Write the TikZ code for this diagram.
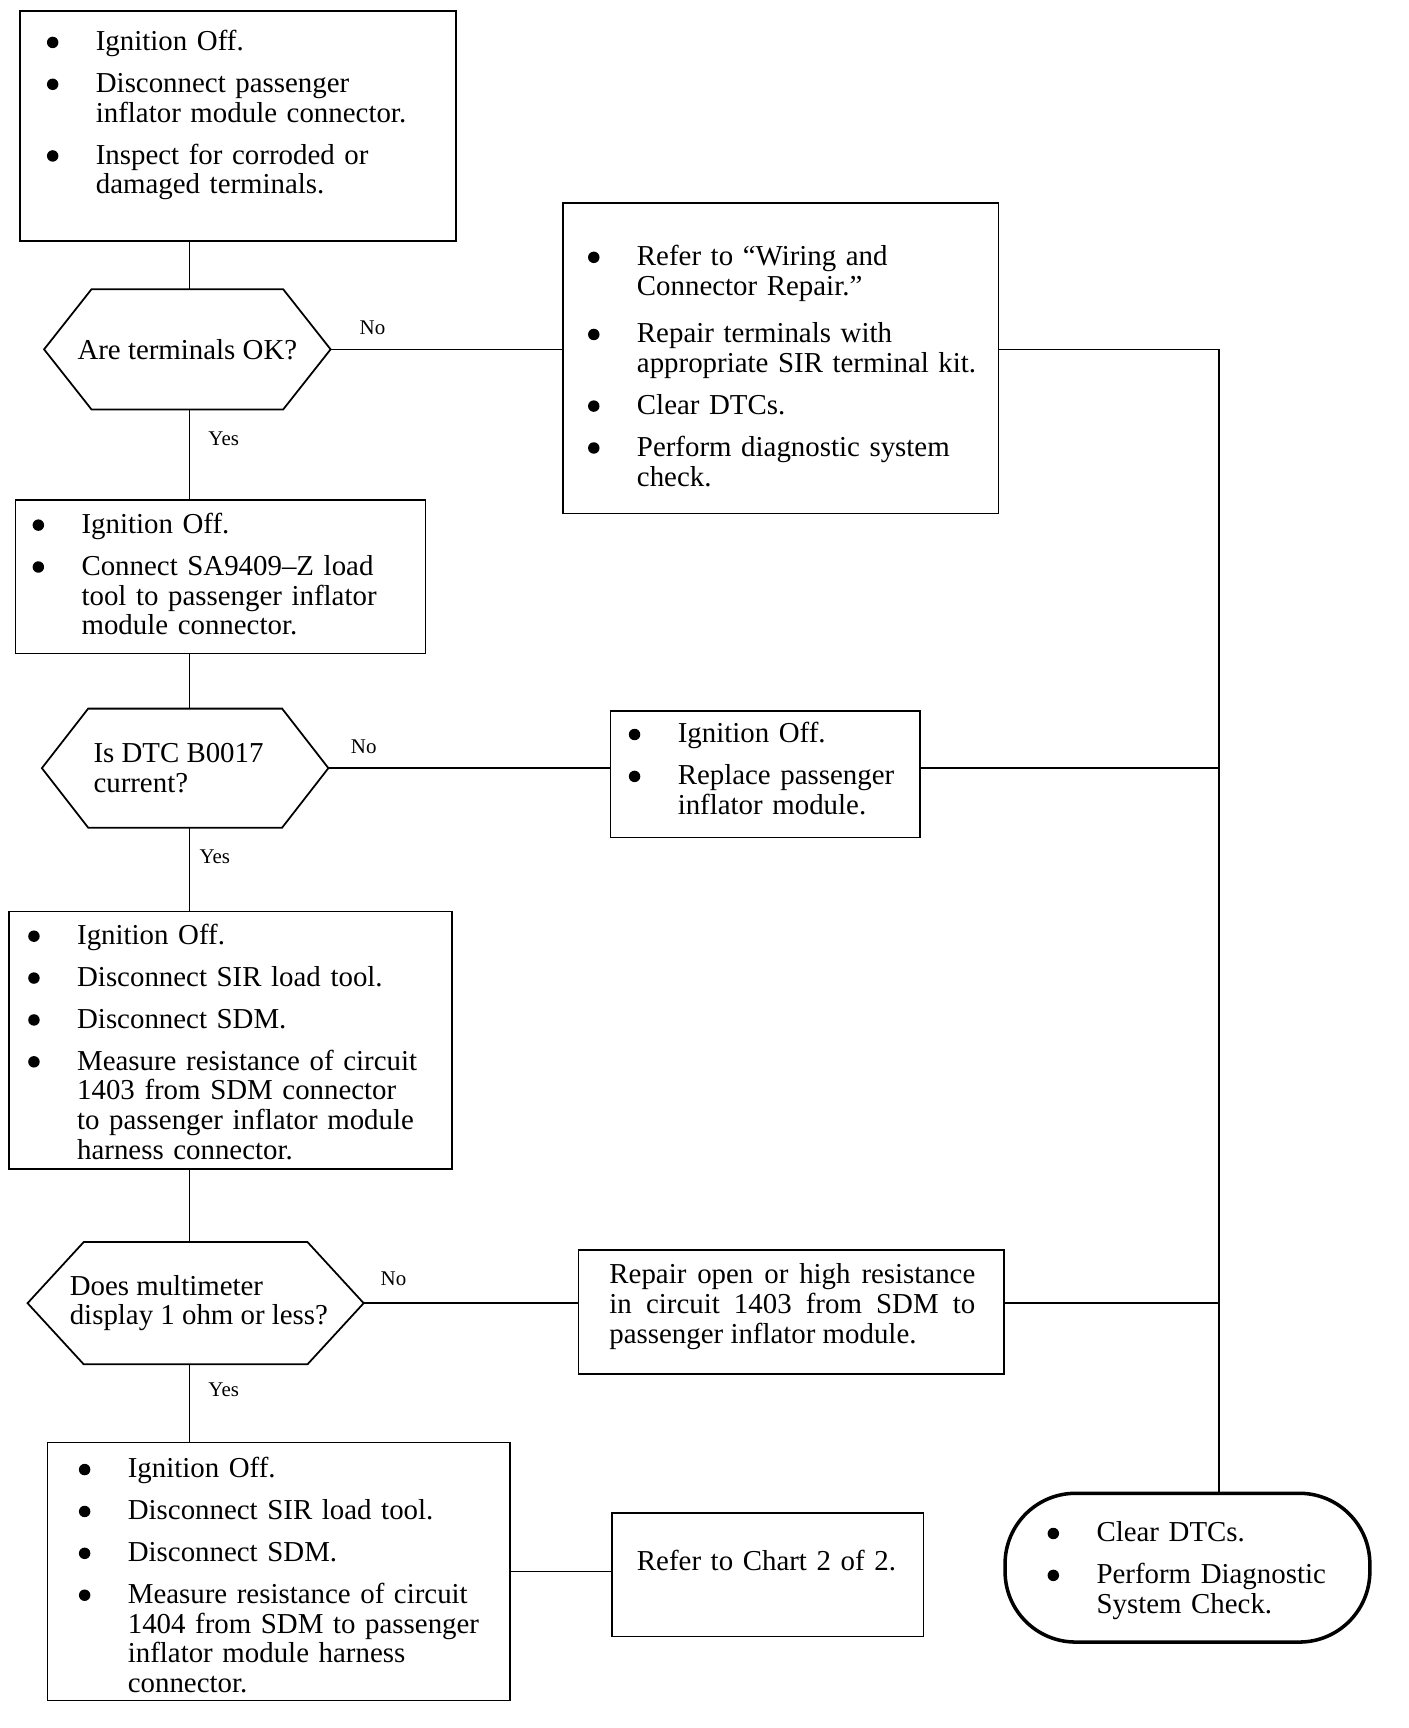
\documentclass[tikz,border=0pt]{standalone}
\usepackage{fontspec}
\setmainfont{Liberation Serif}
\newcommand\mainsize{\fontsize{26.2pt}{27pt}\selectfont}
\newcommand\bul{\tikz[baseline=0pt]\fill (0pt,7.5pt) circle (5.2pt);}
\newcommand\bfirst{\noindent\llap{\bul\hspace{34pt}}}
\newcommand\bnext[1][0pt]{\par\vspace{\dimexpr11pt+#1\relax}\noindent\llap{\bul\hspace{34pt}}}
\newcommand\hexo[2]{\draw[line width=1.6pt, line join=miter] (#1.west) -- ([xshift=#2]#1.north west) -- ([xshift=-#2]#1.north east) -- (#1.east) -- ([xshift=-#2]#1.south east) -- ([xshift=#2]#1.south west) -- cycle;}
\tikzset{
  frame/.style={draw, rectangle, line width=1.6pt, inner sep=0pt, outer sep=0pt, anchor=north west},
  hexa/.style={inner sep=0pt, outer sep=0pt, align=left, font=\mainsize},
  txt/.style={anchor=base west, inner sep=0pt, outer sep=0pt, text width=420pt, align=left, font=\mainsize,
    execute at begin node={\setlength\baselineskip{27pt}}},
  lbl/.style={font=\fontsize{19pt}{19pt}\selectfont, inner sep=0pt},
  conn/.style={line width=1.3pt},
}
\begin{document}
\begin{tikzpicture}[x=1pt,y=-1pt]
\fill[white] (0,0) rectangle (1278,1568);
\useasboundingbox (0,0) rectangle (1278,1568);

% frames
\node[frame, minimum width=396pt, minimum height=209pt] (b1) at (18,10) {};
\node[frame, minimum width=395pt, minimum height=282pt] (r1) at (511,184) {};
\node[frame, minimum width=372pt, minimum height=139pt] (b2) at (14,454) {};
\node[frame, minimum width=281pt, minimum height=115pt] (r2) at (554,645) {};
\node[frame, minimum width=402pt, minimum height=234pt] (b3) at (8,827) {};
\node[frame, minimum width=386pt, minimum height=113pt] (r3) at (525,1134) {};
\node[frame, minimum width=420pt, minimum height=234pt] (b4) at (43,1309) {};
\node[frame, minimum width=283pt, minimum height=112pt] (r4) at (555,1373) {};
\node[draw, rectangle, rounded corners=64pt, line width=3.2pt, minimum width=331pt, minimum height=135pt,
      anchor=north west, inner sep=0pt, outer sep=0pt] (term) at (912,1355) {};

% decisions
\node[hexa, minimum width=260pt, minimum height=109pt] (d1) at (170,317) {Are terminals OK?};
\hexo{d1}{43pt}
\node[hexa, minimum width=260pt, minimum height=108pt] (d2) at (168,697) {Is DTC B0017\hspace*{12pt}\\current?};
\hexo{d2}{42pt}
\node[hexa, minimum width=305pt, minimum height=111pt] (d3) at (177.5,1182.5) {\hspace*{6pt}Does multimeter\\\hspace*{6pt}display 1 ohm or less?};
\hexo{d3}{51pt}

% texts
\node[txt] (b1t) at (87,46) {\bfirst Ignition Off.\bnext Disconnect passenger\\inflator module connector.\bnext Inspect for corroded or\\damaged terminals.};
\node[txt] (r1t) at (578,241) {\bfirst Refer to “Wiring and\\Connector Repair.”\bnext[5pt]Repair terminals with\\appropriate SIR terminal kit.\bnext Clear DTCs.\bnext Perform diagnostic system\\check.};
\node[txt] (b2t) at (74,484) {\bfirst Ignition Off.\bnext Connect SA9409–Z load\\tool to passenger inflator\\module connector.};
\node[txt] (r2t) at (615,674) {\bfirst Ignition Off.\bnext Replace passenger\\inflator module.};
\node[txt] (b3t) at (70,857) {\bfirst Ignition Off.\bnext Disconnect SIR load tool.\bnext Disconnect SDM.\bnext Measure resistance of circuit\\1403 from SDM connector\\to passenger inflator module\\harness connector.};
\node[txt, text width=332pt, align=justify] (r3t) at (553,1165) {Repair open or high resistance\linebreak in circuit 1403 from SDM to\linebreak passenger inflator module.};
\node[txt] (b4t) at (116,1341) {\bfirst Ignition Off.\bnext Disconnect SIR load tool.\bnext Disconnect SDM.\bnext Measure resistance of circuit\\1404 from SDM to passenger\\inflator module harness\\connector.};
\node[txt] (r4t) at (578,1425) {Refer to Chart 2 of 2.};
\node[txt] (termt) at (995,1399) {\bfirst Clear DTCs.\bnext Perform Diagnostic\\System Check.};

% connectors
\coordinate (col) at (172,0);
\coordinate (bus) at (1106,0);
\draw[conn] (col |- b1.south) -- (col |- d1.north);
\draw[conn] (col |- d1.south) -- (col |- b2.north);
\draw[conn] (col |- b2.south) -- (col |- d2.north);
\draw[conn] (col |- d2.south) -- (col |- b3.north);
\draw[conn] (col |- b3.south) -- (col |- d3.north);
\draw[conn] (col |- d3.south) -- (col |- b4.north);
\draw[conn] (d1.east) -- (d1.east -| r1.west);
\draw[conn] (d1.east -| r1.east) -- (d1.east -| bus) -- (bus |- term.north);
\draw[conn] (d2.east) -- (d2.east -| r2.west);
\draw[conn] (d2.east -| r2.east) -- (d2.east -| bus);
\draw[conn] (d3.east) -- (d3.east -| r3.west);
\draw[conn] (d3.east -| r3.east) -- (d3.east -| bus);
\draw[conn] (b4.east) -- (b4.east -| r4.west);

% labels
\node[lbl] (no1) at (338,297) {No};
\node[lbl] (yes1) at (203,398) {Yes};
\node[lbl] (no2) at (330,678) {No};
\node[lbl] (yes2) at (195,777) {Yes};
\node[lbl] (no3) at (357,1160) {No};
\node[lbl] (yes3) at (203,1261) {Yes};
\end{tikzpicture}
\end{document}
